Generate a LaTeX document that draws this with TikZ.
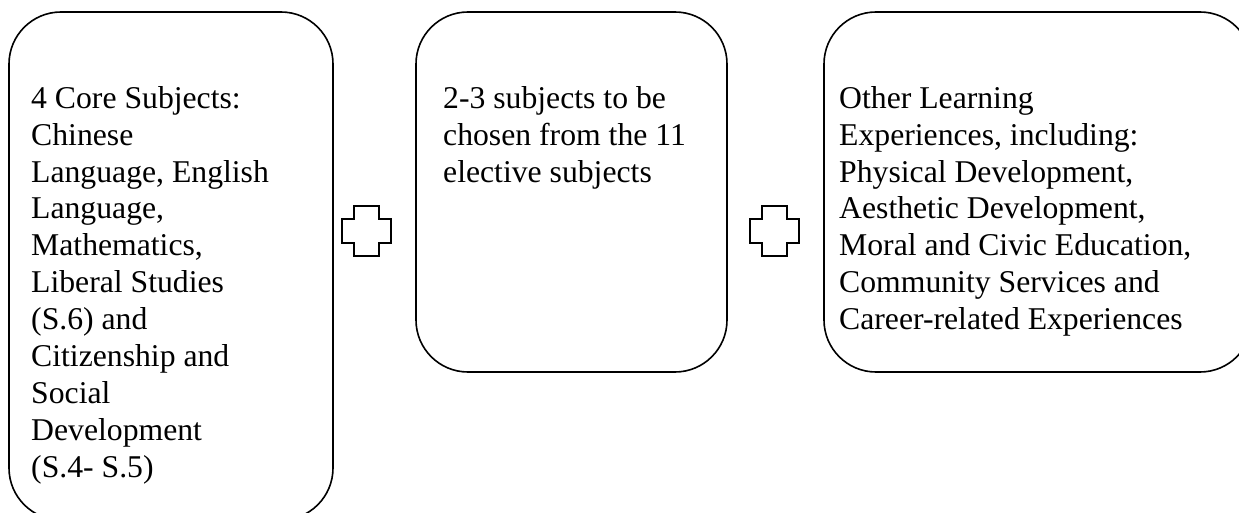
\documentclass[tikz,border=0pt]{standalone}
\usepackage{fontspec}
\setmainfont{Liberation Serif}
\usetikzlibrary{positioning}

\tikzset{
  box/.style={draw, rectangle, rounded corners=52pt, line width=1.6pt,
    outer sep=0pt, inner sep=0pt, anchor=north west},
  boxtext/.style={align=left, inner sep=0pt, anchor=north west,
    font=\fontsize{31.7}{36.9}\selectfont},
  pics/plussign/.style={code={
    \draw[line width=1.6pt] (-12.5,-25) -- (12.5,-25) -- (12.5,-12) -- (24.5,-12)
      -- (24.5,12) -- (12.5,12) -- (12.5,25) -- (-12.5,25) -- (-12.5,12)
      -- (-24.5,12) -- (-24.5,-12) -- (-12.5,-12) -- cycle;
  }}
}

\begin{document}
\begin{tikzpicture}[x=1pt,y=-1pt]
    \useasboundingbox (0,0) rectangle (1239,513);
    \clip (0,0) rectangle (1239,513);
    % the three boxes
    \node[box, minimum width=324pt, minimum height=508pt] (core) at (9,12) {};
    \node[box, minimum width=311pt, minimum height=360pt, right=83pt of core.north east, anchor=north west] (elective) {};
    \node[box, minimum width=428pt, minimum height=360pt, right=97pt of elective.north east, anchor=north west] (ole) {};
    \node[boxtext, below right=70.2pt and 22pt of core.north west] (coretext)
        {\strut 4 Core Subjects:\\ Chinese\\ Language, English\\ Language,\\ Mathematics,\\ Liberal Studies\\ (S.6) and\\ Citizenship and\\ Social\\ Development\\ (S.4- S.5)};
    \node[boxtext, below right=70.2pt and 27pt of elective.north west] (electivetext)
        {\strut 2-3 subjects to be\\ chosen from the 11\\ elective subjects};
    \node[boxtext, below right=70.2pt and 15pt of ole.north west] (oletext)
        {\strut Other Learning\\ Experiences, including:\\ Physical Development,\\ Aesthetic Development,\\ Moral and Civic Education,\\ Community Services and\\ Career-related Experiences};
    % plus signs
    \pic (plus1) at (366.5,231) {plussign};
    \pic (plus2) at (774.5,231) {plussign};
\end{tikzpicture}
\end{document}
